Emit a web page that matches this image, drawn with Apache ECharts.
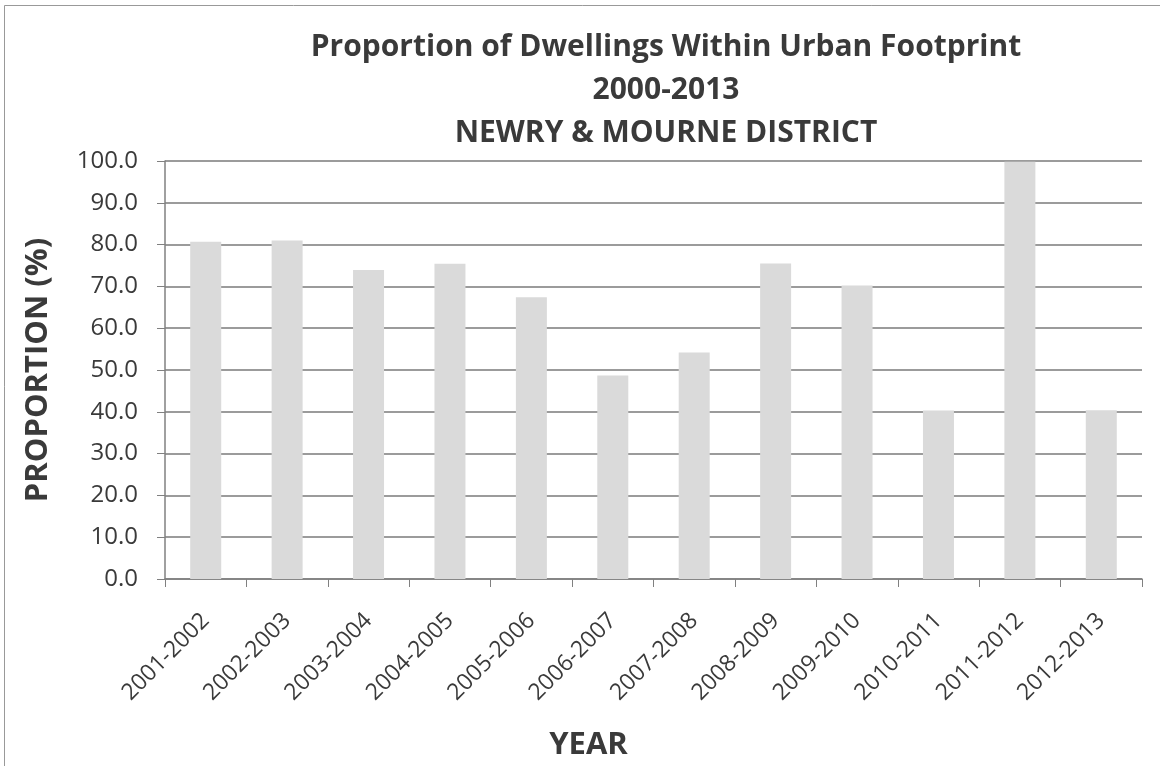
<!DOCTYPE html>
<html><head><meta charset="utf-8">
<script src="https://cdn.jsdelivr.net/npm/echarts@6/dist/echarts.min.js"></script>
<style>html,body{margin:0;padding:0;background:#fff}#c{width:1160px;height:766px}</style>
</head><body><div id="c"></div>
<script>
const categories = ['2001-2002','2002-2003','2003-2004','2004-2005','2005-2006','2006-2007','2007-2008','2008-2009','2009-2010','2010-2011','2011-2012','2012-2013'];
const proportion = [80.7, 81.0, 73.9, 75.4, 67.4, 48.7, 54.2, 75.5, 70.2, 40.3, 99.8, 40.4];
const titleLines = ['Proportion of Dwellings Within Urban Footprint', '2000-2013', 'NEWRY & MOURNE DISTRICT'];
const FONT = '"Open Sans", "Noto Sans", sans-serif';
const chart = echarts.init(document.getElementById('c'));
chart.setOption({
  animation: false,
  backgroundColor: '#fff',
  title: {
    text: titleLines.join('\n'),
    left: 661, top: 21, textAlign: 'center',
    textStyle: {fontFamily: FONT, fontSize: 30, fontWeight: 'bold', color: '#3a3a3a', lineHeight: 43}
  },
  graphic: [{type: 'rect', shape: {x: 4.5, y: 5.5, width: 1160, height: 770}, style: {fill: 'none', stroke: '#999', lineWidth: 1}}],
  grid: {left: 165, right: 18, top: 161, bottom: 187, containLabel: false, outerBoundsMode: 'none'},
  xAxis: {
    type: 'category', data: categories,
    name: 'YEAR', nameLocation: 'middle', nameGap: 151,
    nameTextStyle: {fontFamily: FONT, fontSize: 31, fontWeight: 'bold', color: '#3a3a3a', padding: [0, 130, 0, 0]},
    axisLine: {lineStyle: {color: '#808080', width: 1.5}},
    axisTick: {show: true, length: 8, lineStyle: {color: '#808080'}},
    axisLabel: {rotate: 45, fontFamily: FONT, fontSize: 23, color: '#3a3a3a', margin: 38, interval: 0}
  },
  yAxis: {
    type: 'value', min: 0, max: 100, interval: 10,
    name: 'PROPORTION (%)', nameLocation: 'middle', nameGap: 111, nameRotate: 90,
    nameTextStyle: {fontFamily: FONT, fontSize: 31, fontWeight: 'bold', color: '#3a3a3a'},
    axisLine: {show: true, lineStyle: {color: '#808080', width: 1.5}},
    axisTick: {show: true, length: 8, lineStyle: {color: '#808080'}},
    axisLabel: {formatter: v => v.toFixed(1), fontFamily: FONT, fontSize: 24, color: '#3a3a3a', margin: 27},
    splitLine: {lineStyle: {color: '#7a7a7a', width: 1.5}}
  },
  series: [{
    type: 'bar', data: proportion, barWidth: 31,
    itemStyle: {color: '#dadada'}
  }]
});
</script></body></html>
